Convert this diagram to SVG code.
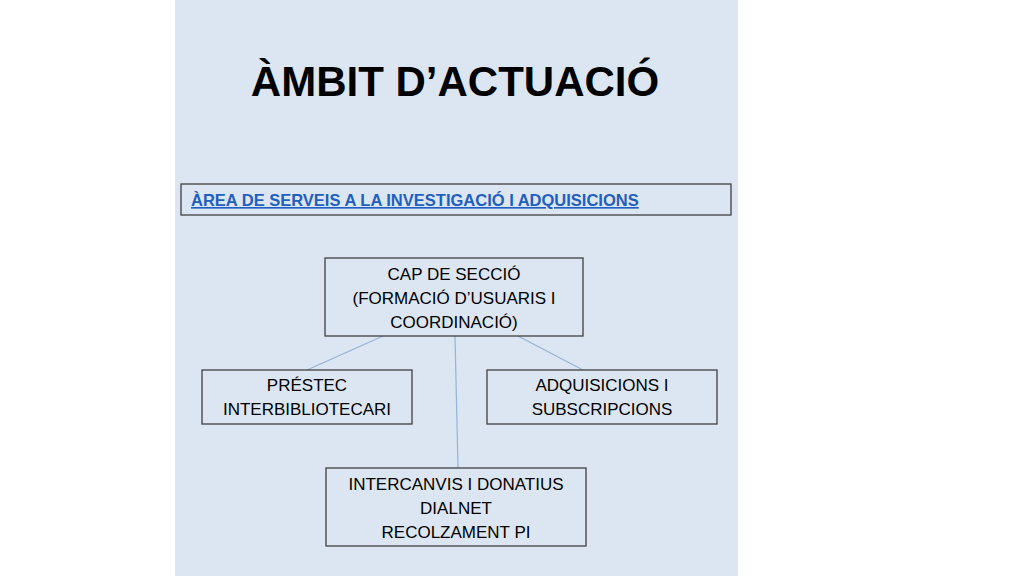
<svg xmlns="http://www.w3.org/2000/svg" width="1024" height="576" viewBox="0 0 1024 576">
<style>
.box{fill:#dce6f2;stroke:#404040;stroke-width:1.3}
.t{font-family:"Liberation Sans",Arial,sans-serif;font-size:17px;fill:#000;text-anchor:middle}
.c{stroke:#95b3d7;stroke-width:1.2;fill:none}
</style>
<rect width="1024" height="576" fill="#fff"/>
<rect x="175" y="0" width="563" height="576" fill="#dce6f2"/>
<text x="455" y="96" font-family="Liberation Sans,Arial,sans-serif" font-size="42" font-weight="bold" text-anchor="middle">ÀMBIT D’ACTUACIÓ</text>
<g id="area">
<rect class="box" x="181" y="184" width="550" height="31"/>
<text x="191" y="206" font-family="Liberation Sans,Arial,sans-serif" font-size="16.5" font-weight="bold" fill="#1f5fbf" text-decoration="underline">ÀREA DE SERVEIS A LA INVESTIGACIÓ I ADQUISICIONS</text>
</g>
<g id="connectors">
<line class="c" x1="383" y1="336" x2="307" y2="370"/>
<line class="c" x1="455" y1="336" x2="458" y2="468"/>
<line class="c" x1="518" y1="336" x2="583" y2="370"/>
</g>
<g id="cap">
<rect class="box" x="325" y="258" width="258" height="78"/>
<text class="t" x="454" y="280">CAP DE SECCIÓ</text>
<text class="t" x="454" y="304">(FORMACIÓ D’USUARIS I</text>
<text class="t" x="454" y="328">COORDINACIÓ)</text>
</g>
<g id="prestec">
<rect class="box" x="202" y="370" width="210" height="54"/>
<text class="t" x="307" y="391">PRÉSTEC</text>
<text class="t" x="307" y="415">INTERBIBLIOTECARI</text>
</g>
<g id="adq">
<rect class="box" x="487" y="370" width="230" height="54"/>
<text class="t" x="602" y="391">ADQUISICIONS I</text>
<text class="t" x="602" y="415">SUBSCRIPCIONS</text>
</g>
<g id="interc">
<rect class="box" x="326" y="468" width="260" height="78"/>
<text class="t" x="456" y="490">INTERCANVIS I DONATIUS</text>
<text class="t" x="456" y="514">DIALNET</text>
<text class="t" x="456" y="538">RECOLZAMENT PI</text>
</g>
</svg>
